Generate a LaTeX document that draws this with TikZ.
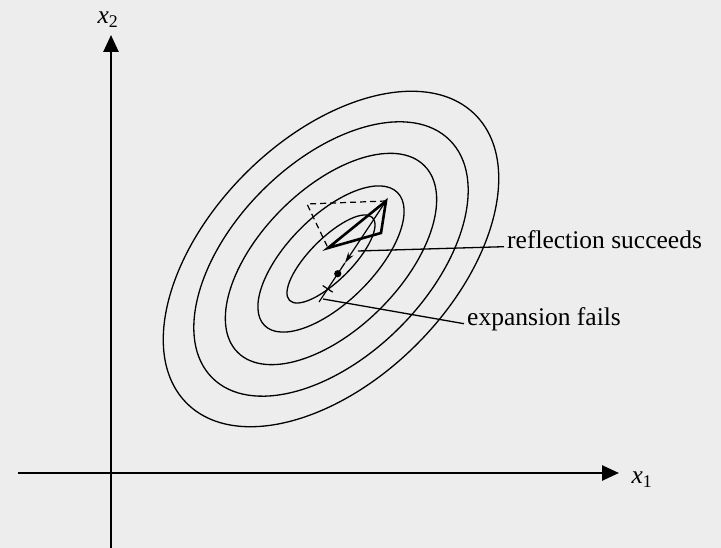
\documentclass[tikz,border=0pt]{standalone}
\usepackage{fontspec}
\setmainfont{Liberation Serif}
\usetikzlibrary{positioning, calc, arrows.meta}
\definecolor{paper}{HTML}{EDEDED}

\begin{document}
\begin{tikzpicture}[
        x=1pt, y=1pt,
        font=\fontsize{25.5}{30}\selectfont,
        axis/.style={line width=2.6pt, -{Triangle[length=17pt, width=15pt]}},
        contour/.style={line width=1.3pt},
        simplex/.style={line width=2.6pt, line join=miter},
        trial/.style={line width=1.2pt, dash pattern=on 6pt off 4pt},
        descent/.style={line width=1.2pt},
        leader/.style={line width=1.3pt},
        tag/.style={inner sep=3pt}
    ]

        % Frame
        \fill[paper] (0,0) rectangle (721,548);
        \useasboundingbox (0,0) rectangle (721,548);

        % Axes
        \coordinate (xstart) at (18,75);
        \coordinate (xend) at (619,75);
        \coordinate (ystart) at (111,0);
        \coordinate (yend) at (111,513);
        \draw [axis] (xstart) -- (xend);
        \draw [axis] (ystart) -- (yend);
        \node (xone) at (642,68) {\textit{x}\textsubscript{1}};
        \node (xtwo) at (108,528) {\textit{x}\textsubscript{2}};

        % Contours
        \coordinate (c) at (331,289);
        \foreach \a/\b in {204/121, 168/97, 132/70, 94/43, 58.6/21}
            \draw [contour] (c) ellipse [x radius=\a pt, y radius=\b pt, rotate=45];

        % Simplex
        \coordinate (p1) at (386,347);
        \coordinate (p2) at (328,300);
        \coordinate (p3) at (381,315);
        \coordinate (pr) at (307,344);
        \draw [trial] (p1) -- (pr) -- (p2);
        \draw [simplex] (p2) -- (p1) -- (p3) -- cycle;

        % Step
        \coordinate (tail) at (319,246);
        \coordinate (head) at ($(p1)!0.614!(tail)$);
        \coordinate (pmin) at ($(p1)!0.72!(tail)$);
        \coordinate (pexp) at ($(p1)!0.87!(tail)$);
        \draw [descent, -{Stealth[length=11pt, width=6pt]}] (p1) -- (head);
        \draw [descent] (head) -- (tail);
        \fill (pmin) circle (3.6pt);
        \draw [descent] ($(pexp)!6pt!90:(tail)$) -- ($(pexp)!6pt!-90:(tail)$);

        % Labels
        \node [tag, anchor=base west] (succ) at (504,299) {reflection succeeds};
        \node [tag, anchor=base west] (fail) at (464,222) {expansion fails};
        \coordinate (succfoot) at (358,297);
        \coordinate (failfoot) at (323,249);
        \draw [leader] (succfoot) -- (succ.mid west);
        \draw [leader] (failfoot) -- (fail.mid west);

\end{tikzpicture}
\end{document}
